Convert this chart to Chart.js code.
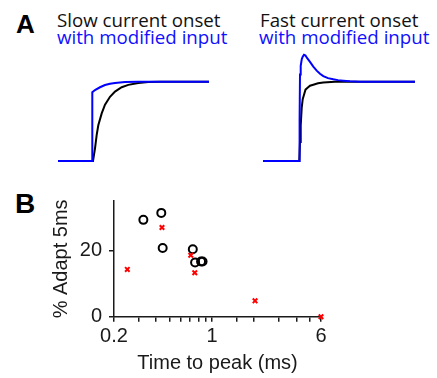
<!DOCTYPE html>
<html>
<head>
<meta charset="utf-8">
<script src="https://cdn.jsdelivr.net/npm/chart.js@4/dist/chart.umd.min.js"></script>
<style>
  html, body { margin: 0; padding: 0; background: #fff; width: 437px; height: 378px; overflow: hidden; }
  .abs { position: absolute; white-space: nowrap; }
  .hdr { font-family: "Open Sans", sans-serif; font-size: 18.7px; line-height: 18px; }
  .panel { font-family: "Liberation Sans", Arial, sans-serif; font-weight: bold; color: #000; }
  canvas { position: absolute; }
</style>
</head>
<body>
<div class="abs panel" style="left:16px; top:11px; font-size:26px; line-height:26px;">A</div>
<div class="abs hdr" style="left:57px; top:10.5px; color:#111;">Slow current onset</div>
<div class="abs hdr" style="left:57px; top:27.5px; color:#1010ff;">with modified input</div>
<div class="abs hdr" style="left:260px; top:10.5px; color:#111;">Fast current onset</div>
<div class="abs hdr" style="left:259px; top:27.5px; color:#1010ff;">with modified input</div>
<div class="abs panel" style="left:15px; top:190px; font-size:28px; line-height:28px;">B</div>

<canvas id="slow" width="170" height="130" style="left:48px; top:40px;"></canvas>
<canvas id="fast" width="170" height="130" style="left:253px; top:40px;"></canvas>
<canvas id="scatter" width="437" height="198" style="left:0px; top:180px;"></canvas>

<script>
// ---------- Panel A traces (time in ms, normalised response) ----------
const slowBlackT = [0, 3.5, 3.7, 3.87, 4.03, 4.37, 4.7, 5.2, 5.7, 6.37, 7.03, 8.03, 9.03, 10.2, 15.1];
const slowBlackV = [0, 0, 0.16, 0.33, 0.45, 0.60, 0.71, 0.81, 0.875, 0.93, 0.96, 0.985, 0.995, 1.0, 1.0];
const slowBlueT  = [0, 3.43, 3.43, 3.7, 4.2, 4.7, 5.2, 5.7, 6.7, 8.0, 15.1];
const slowBlueV  = [0, 0, 0.866, 0.895, 0.93, 0.958, 0.975, 0.985, 0.995, 1.0, 1.0];

const fastBlackT = [0, 3.63, 3.7, 3.77, 3.87, 3.97, 4.1, 4.25, 4.43, 4.7, 5.03, 5.5, 6.03, 7.2, 15.2];
const fastBlackV = [0, 0, 0.24, 0.45, 0.67, 0.78, 0.835, 0.90, 0.92, 0.95, 0.962, 0.98, 0.99, 1.0, 1.0];
const fastBlueT  = [0, 3.63, 3.66, 3.7, 3.77, 3.87, 3.97, 4.1, 4.25, 4.4, 4.7, 5.03, 5.37, 5.7, 6.03, 6.5, 7.03, 7.5, 8.03, 8.7, 9.7, 15.2];
const fastBlueV  = [0, 0, 0.5, 1.09, 1.2, 1.28, 1.315, 1.34, 1.33, 1.3, 1.25, 1.19, 1.14, 1.10, 1.07, 1.045, 1.03, 1.02, 1.013, 1.005, 1.0, 1.0];

// ---------- Panel B scatter ----------
const circleX = [0.324, 0.435, 0.445, 0.73, 0.758, 0.836, 0.857];
const circleY = [29.3, 31.4, 20.8, 20.4, 16.4, 16.7, 16.7];
const crossX  = [0.249, 0.44, 0.706, 0.754, 2.03, 6.0];
const crossY  = [14.3, 27.0, 18.6, 13.3, 4.8, 0];
const xTickLabels = [0.2, 1, 6];
const yTickValues = [0, 20];

const zip = (xs, ys) => xs.map((x, i) => ({x: x, y: ys[i]}));

function traceChart(id, blackT, blackV, blueT, blueV) {
  new Chart(document.getElementById(id), {
    type: 'line',
    data: {
      datasets: [
        { data: zip(blueT, blueV), borderColor: '#0000ff', borderWidth: 2, pointRadius: 0, tension: 0, fill: false },
        { data: zip(blackT, blackV), borderColor: '#000000', borderWidth: 2, pointRadius: 0, tension: 0, fill: false }
      ]
    },
    options: {
      responsive: false, animation: false, devicePixelRatio: 1,
      layout: { padding: 0 },
      plugins: { legend: { display: false }, tooltip: { enabled: false } },
      scales: {
        x: { type: 'linear', display: false, min: -1, max: 16 },
        y: { type: 'linear', display: false, min: -0.1135, max: 1.526 }
      }
    }
  });
}
traceChart('slow', slowBlackT, slowBlackV, slowBlueT, slowBlueV);
traceChart('fast', fastBlackT, fastBlackV, fastBlueT, fastBlueV);

const axisFont = { family: '"Liberation Sans", Arial, sans-serif', size: 20 };
const axisColor = '#1a1a1a';

new Chart(document.getElementById('scatter'), {
  type: 'scatter',
  data: {
    datasets: [
      { data: zip(crossX, crossY), pointStyle: 'crossRot', pointRadius: 3.2, borderColor: '#ff0000', borderWidth: 2, clip: false },
      { data: zip(circleX, circleY), pointStyle: 'circle', pointRadius: 4, borderColor: '#000', backgroundColor: 'rgba(0,0,0,0)', borderWidth: 2, clip: false }
    ]
  },
  options: {
    responsive: false, animation: false, devicePixelRatio: 1,
    layout: { padding: { left: 0, right: 116, top: 21, bottom: 0 } },
    plugins: { legend: { display: false }, tooltip: { enabled: false } },
    scales: {
      x: {
        type: 'logarithmic', min: 0.2, max: 6,
        afterFit: (s) => { s.height = 61.3; },
        border: { display: true, color: axisColor, width: 1.5 },
        grid: { display: true, drawOnChartArea: false, drawTicks: true, tickLength: 5, color: axisColor, lineWidth: 1.5 },
        ticks: {
          autoSkip: false, maxRotation: 0, padding: 3, color: axisColor, font: axisFont,
          callback: (v) => xTickLabels.some(t => Math.abs(t - v) < 1e-6) ? String(v) : ''
        },
        title: { display: true, text: 'Time to peak (ms)', color: axisColor, font: axisFont, padding: { top: 0, bottom: 3 } }
      },
      y: {
        type: 'linear', min: 0, max: 35,
        afterFit: (s) => { s.width = 114; },
        afterBuildTicks: (s) => { s.ticks = yTickValues.map(v => ({ value: v })); },
        border: { display: true, color: axisColor, width: 1.5 },
        grid: { display: true, drawOnChartArea: false, drawTicks: true, tickLength: 5, color: axisColor, lineWidth: 1.5 },
        ticks: { padding: 7, color: axisColor, font: axisFont },
        title: { display: true, text: '% Adapt 5ms', color: axisColor, font: axisFont, padding: { top: 49, bottom: 0 } }
      }
    }
  }
});
</script>
</body>
</html>
